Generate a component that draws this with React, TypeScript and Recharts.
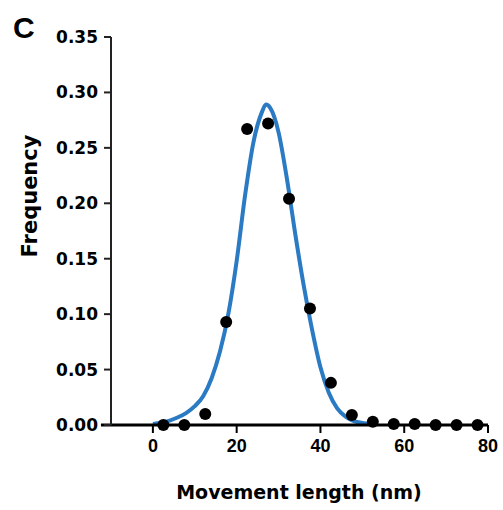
import {
  ComposedChart,
  Line,
  Scatter,
  XAxis,
  YAxis,
  ReferenceLine,
} from "recharts";

// binned movement lengths (bin centres, nm) and observed frequency
const binCenters = [2.5, 7.5, 12.5, 17.5, 22.5, 27.5, 32.5, 37.5, 42.5, 47.5, 52.5, 57.5, 62.5, 67.5, 72.5, 77.5];
const frequencies = [0.0, 0.0, 0.01, 0.093, 0.267, 0.272, 0.204, 0.105, 0.038, 0.009, 0.003, 0.001, 0.001, 0.0, 0.0, 0.0];

// fitted curve
const fitX = [0, 2, 4, 6, 8, 10, 12, 14, 16, 18, 20, 22, 24, 26, 27, 28, 30, 32, 34, 36, 38, 40, 42, 44, 46, 48, 50, 52];
const fitY = [0.001, 0.002, 0.004, 0.007, 0.011, 0.017, 0.026, 0.042, 0.066, 0.1, 0.148, 0.207, 0.255, 0.282, 0.289, 0.286, 0.264, 0.222, 0.172, 0.126, 0.086, 0.052, 0.029, 0.015, 0.0075, 0.0035, 0.0018, 0.001];

const xTicks = [0, 20, 40, 60, 80];
const yTicks = [0, 0.05, 0.1, 0.15, 0.2, 0.25, 0.3, 0.35];

const points = binCenters.map((x, i) => ({ x, y: frequencies[i] }));
const fit = fitX.map((x, i) => ({ x, y: fitY[i] }));

const Dot = (props: any) => {
  const { cx, cy } = props;
  return <circle cx={cx} cy={cy} r={6} fill="#000" />;
};

const font = "'DejaVu Sans', sans-serif";

export default function App() {
  return (
    <div style={{ position: "absolute", left: 0, top: 0, width: 503, height: 510, background: "#fff" }}>
      <ComposedChart
        width={503}
        height={510}
        margin={{ top: 37, right: 15, bottom: 35, left: 51 }}
      >
        <XAxis
          type="number"
          dataKey="x"
          domain={[-10, 80]}
          ticks={xTicks}
          allowDataOverflow
          axisLine={{ stroke: "#000", strokeWidth: 3 }}
          tickLine={{ stroke: "#000", strokeWidth: 2 }}
          tickSize={8}
          tickMargin={6}
          height={50}
          tick={{ fill: "#000", fontSize: 18, fontWeight: "bold", fontFamily: "'Liberation Sans', Arial, sans-serif" }}
        />
        <YAxis
          type="number"
          dataKey="y"
          domain={[0, 0.35]}
          ticks={yTicks}
          width={60}
          axisLine={{ stroke: "#222", strokeWidth: 2 }}
          tickLine={{ stroke: "#222", strokeWidth: 2 }}
          tickSize={7}
          tickMargin={6}
          tickFormatter={(v: number) => v.toFixed(2)}
          tick={{ fill: "#000", fontSize: 17, fontWeight: "bold", fontFamily: font }}
        />
        <ReferenceLine
          segment={[{ x: -12.4, y: 0 }, { x: -10, y: 0 }]}
          stroke="#000"
          strokeWidth={3}
          ifOverflow="visible"
        />
        <Line
          data={fit}
          dataKey="y"
          type="monotone"
          stroke="#2a7ac4"
          strokeWidth={4}
          dot={false}
          activeDot={false}
          isAnimationActive={false}
        />
        <Scatter
          data={points}
          dataKey="y"
          shape={Dot}
          isAnimationActive={false}
        />
      </ComposedChart>
      <svg
        width={503}
        height={510}
        style={{ position: "absolute", left: 0, top: 0, pointerEvents: "none" }}
      >
        <text x={13} y={38} fontSize={30} fontWeight="bold" fontFamily="'Liberation Sans', Arial, sans-serif">
          C
        </text>
        <text
          x={299}
          y={499}
          textAnchor="middle"
          fontSize={19}
          fontWeight="bold"
          fontFamily={font}
        >
          Movement length (nm)
        </text>
        <text
          x={37}
          y={196}
          textAnchor="middle"
          transform="rotate(-90 37 196)"
          fontSize={21}
          fontWeight="bold"
          fontFamily={font}
        >
          Frequency
        </text>
      </svg>
    </div>
  );
}
